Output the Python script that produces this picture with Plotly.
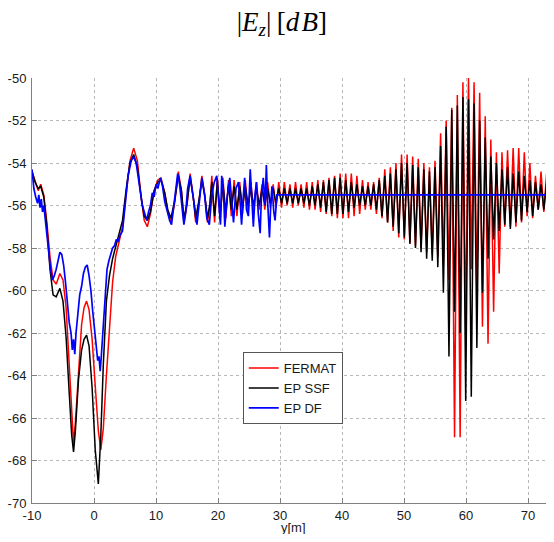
import numpy as np
import plotly.graph_objects as go

# ---- data ----
# near field part (x in m, |Ez| in dB), FERMAT and EP SSF share the same abscissae
x_near = [-10, -9.5, -9, -8.6, -8.1, -7.6, -7.1, -6.6, -6.1, -5.5, -5, -4.5, -4, -3.6, -3.3,
          -3, -2.5, -2, -1.6, -1.2, -0.8, -0.3, 0.2, 0.7, 1.1, 1.5, 2, 2.5, 3, 3.5, 4, 4.6,
          5.2, 5.8, 6.4, 7, 7.6, 8.1, 8.6, 9.1, 9.7, 10.3, 10.8, 11.4, 11.9, 12.4, 13, 13.6,
          14.1, 14.5, 15, 15.5, 16, 16.4, 16.9, 17.4, 17.9, 18.3, 18.7]
fermat_near = [-54.4, -54.9, -55.3, -55.0, -55.5, -56.8, -58.4, -59.5, -59.7, -59.2, -59.5, -60.8,
               -63.3, -65.8, -67.2, -66.2, -63.6, -61.6, -60.8, -60.5, -60.9, -62.3, -64.5, -66.6,
               -67.5, -66.5, -64.0, -61.5, -59.6, -58.4, -57.8, -57.0, -55.4, -53.9, -53.3, -53.9,
               -55.6, -56.7, -57.0, -56.4, -55.3, -54.8, -54.7, -55.4, -56.3, -56.8, -55.9, -54.4,
               -55.3, -56.8, -56.0, -54.5, -55.6, -56.8, -55.9, -54.6, -55.6, -56.8, -56.0]
ssf_near = [-54.4, -54.9, -55.2, -55.1, -55.6, -57.0, -59.0, -60.2, -60.3, -59.9, -60.5, -62.2,
            -64.8, -66.8, -67.6, -66.6, -64.2, -62.8, -62.3, -62.1, -62.6, -64.6, -67.5, -69.1,
            -66.8, -63.5, -60.5, -59.3, -58.5, -57.9, -57.4, -56.7, -55.2, -54.0, -53.6, -54.2,
            -55.6, -56.5, -56.7, -56.3, -55.3, -54.9, -54.8, -55.4, -56.2, -56.6, -55.8, -54.6,
            -55.3, -56.6, -55.9, -54.7, -55.6, -56.6, -55.8, -54.8, -55.6, -56.6, -55.9]

# far part: samples every 0.45 m from 19 m
x_far = np.round(np.arange(19.0, 74.4, 0.45), 2)
fermat_far = [-54.6, -56.8, -54.7, -56.7, -54.7, -56.6, -54.8, -56.5, -54.8, -56.5,
              -54.9, -56.4, -54.8, -56.3, -54.9, -56.3, -54.9, -56.2, -55.0, -56.2,
              -54.9, -56.1, -55.0, -56.1, -54.9, -56.1, -54.9, -56.0, -55.0, -56.1,
              -54.9, -56.0, -55.0, -56.1, -54.9, -56.2, -54.9, -56.2, -54.8, -56.3,
              -54.8, -56.4, -54.7, -56.5, -54.6, -56.6, -54.5, -56.6, -54.5, -56.6,
              -54.5, -56.5, -54.6, -56.4, -54.8, -56.2, -54.9, -56.2, -54.9, -56.4,
              -54.7, -56.6, -54.3, -56.8, -54.2, -57.2, -54.0, -57.5, -53.6, -57.6,
              -53.6, -57.8, -53.7, -57.9, -53.8, -58.0, -54.0, -58.2, -54.2, -58.3,
              -53.9, -58.4, -52.6, -58.8, -52.0, -59.5, -51.4, -66.9, -50.8, -66.9,
              -50.2, -61.9, -50.0, -59.0, -50.2, -60.0, -50.7, -61.7, -51.8, -62.5,
              -52.9, -61.0, -53.5, -59.2, -53.5, -57.0, -53.4, -57.0, -53.3, -57.0,
              -53.3, -56.8, -53.5, -56.5, -54.0, -56.6, -54.6, -56.2, -54.4, -56.3,
              -54.5, -56.1, -54.9, -56.0]
ssf_far = [-54.9, -56.5, -54.9, -56.4, -55.0, -56.3, -55.0, -56.2, -55.1, -56.2,
           -55.1, -56.1, -55.1, -56.0, -55.2, -56.0, -55.2, -56.0, -55.2, -55.9,
           -55.2, -55.9, -55.2, -55.9, -55.2, -55.9, -55.2, -55.9, -55.2, -55.9,
           -55.2, -55.9, -55.2, -55.9, -55.2, -56.0, -55.1, -56.0, -55.0, -56.1,
           -54.9, -56.3, -54.8, -56.4, -54.7, -56.4, -54.7, -56.4, -54.8, -56.3,
           -54.9, -56.1, -55.0, -56.0, -55.1, -56.0, -55.1, -56.0, -55.0, -56.2,
           -54.8, -56.5, -54.6, -56.8, -54.5, -57.0, -54.3, -57.3, -54.0, -57.5,
           -54.0, -57.8, -54.1, -58.0, -54.2, -58.2, -54.3, -58.5, -54.4, -58.6,
           -54.2, -58.9, -53.2, -60.1, -52.3, -63.1, -51.5, -61.0, -51.3, -62.0,
           -50.9, -65.2, -51.0, -65.0, -51.2, -62.7, -52.0, -60.1, -52.8, -58.5,
           -53.7, -57.6, -54.0, -57.2, -54.3, -56.9, -54.2, -57.1, -54.5, -56.8,
           -54.4, -56.7, -54.6, -56.3, -54.8, -56.5, -54.9, -56.2, -55.0, -56.2,
           -54.9, -56.0, -55.0, -55.9]

x_df = [-10, -9.7, -9.4, -9.1, -8.9, -8.7, -8.5, -8.3, -8.1, -7.9, -7.6, -7.3, -7.0, -6.7, -6.4,
        -6.1, -5.8, -5.5, -5.2, -4.9, -4.6, -4.3, -4.0, -3.7, -3.5, -3.3, -3.1, -2.9, -2.6, -2.3,
        -2.0, -1.7, -1.4, -1.1, -0.8, -0.5, -0.2, 0.1, 0.4, 0.6, 0.8, 1.0, 1.2, 1.5, 1.8, 2.1,
        2.4, 2.7, 3.0, 3.3, 3.6, 3.9, 4.2, 4.6, 5.0, 5.5, 6.0, 6.4, 6.8, 7.3, 7.8, 8.2, 8.5,
        8.8, 9.1, 9.4, 9.7, 10.0, 10.3, 10.7, 11.0, 11.4, 11.8, 12.2, 12.5, 12.8, 13.2, 13.5,
        13.8, 14.1, 14.5, 14.8, 15.1, 15.5, 15.9, 16.3, 16.6, 17.0, 17.4, 17.8, 18.2, 18.6,
        19.0, 19.4, 19.8, 20.1, 20.4, 20.6, 20.9, 21.1, 21.5, 21.9, 22.2, 22.5, 22.9, 23.3,
        23.6, 23.8, 24.1, 24.3, 24.6, 24.9, 25.2, 25.5, 25.7, 26.0, 26.2, 26.5, 26.8, 27.0,
        27.3, 27.6, 27.8, 28.0, 28.3, 28.5, 28.7, 29.0, 29.2, 29.5, 29.7, 74.4]
ep_df = [-54.3, -55.2, -55.6, -55.9, -55.5, -56.1, -55.7, -56.3, -56.0, -56.6, -57.3, -58.4,
         -59.0, -59.5, -59.3, -59.0, -58.6, -58.2, -58.3, -58.8, -59.6, -60.5, -61.5, -62.0,
         -62.8, -62.3, -63.0, -62.0, -61.0, -60.2, -59.8, -59.2, -58.9, -58.8, -59.3, -60.0,
         -61.0, -62.0, -62.6, -63.3, -63.1, -63.8, -63.0, -61.5, -60.0, -59.0, -58.6, -58.3,
         -58.0, -57.9, -57.6, -57.7, -57.4, -57.2, -56.0, -54.6, -53.9, -53.7, -54.0, -55.0,
         -56.0, -56.4, -56.7, -56.3, -56.0, -55.4, -55.6, -55.0, -55.2, -54.7, -55.0, -55.8,
         -56.3, -56.7, -56.9, -56.2, -55.0, -54.5, -55.0, -55.8, -56.9, -56.3, -55.2, -54.6,
         -55.3, -56.2, -56.9, -55.8, -54.7, -55.4, -56.6, -56.9, -55.5, -54.9, -54.6, -55.8,
         -56.9, -54.6, -55.5, -57.0, -55.6, -54.7, -55.8, -56.8, -55.2, -54.9, -56.0, -56.9,
         -55.5, -54.7, -56.2, -56.5, -54.3, -55.8, -57.0, -55.4, -54.9, -56.4, -57.3, -55.6,
         -54.7, -56.0, -54.1, -55.8, -57.5, -56.0, -55.1, -56.3, -56.7, -55.5, -55.5, -55.5]

x_ticks = list(range(-10, 80, 10))
y_ticks = list(range(-70, -48, 2))

series = [
    ("FERMAT", list(x_near) + list(x_far), fermat_near + fermat_far, "#ff0000", 1.5),
    ("EP SSF", list(x_near) + list(x_far), ssf_near + ssf_far, "#000000", 1.5),
    ("EP DF", x_df, ep_df, "#0000ff", 1.7),
]

fig = go.Figure()
for name, xs, ys, color, w in series:
    fig.add_trace(go.Scatter(x=xs, y=ys, mode="lines", name=name,
                             line=dict(color=color, width=w)))

axis_style = dict(showline=True, linecolor="#808080", linewidth=1, mirror=False,
                  ticks="inside", ticklen=5, tickcolor="#808080", automargin=False,
                  showgrid=True, gridcolor="#b8b8b8", griddash="dot", gridwidth=1,
                  zeroline=False, tickfont=dict(size=13, color="#1a1a1a"))
fig.update_xaxes(range=[-10, 72.9], tickvals=x_ticks, ticktext=[str(v) for v in x_ticks],
                 **axis_style)
fig.update_yaxes(range=[-70, -50], tickvals=y_ticks, ticktext=[str(v) for v in y_ticks],
                 ticklabelstandoff=2, **axis_style)

# x axis label, placed by hand so it stays inside the page
fig.add_annotation(text="y[m]", xref="paper", yref="paper", x=0.508, y=0,
                   yanchor="middle", yshift=-24, showarrow=False,
                   font=dict(size=13, color="#1a1a1a"))

# the page body keeps an 8 px margin, so the figure is 16 px smaller than the window
fig.update_layout(
    width=538, height=526,
    margin=dict(l=24, r=0, t=70, b=31),
    paper_bgcolor="white", plot_bgcolor="white",
    font=dict(family="Liberation Sans, Arial, sans-serif", size=13, color="#1a1a1a"),
    title=dict(text="|<i>E</i><sub><i>z</i></sub>|\u2009[<i>d</i>\u200a<i>B</i>]",
               font=dict(family="Liberation Serif, DejaVu Serif, serif", size=27, color="black"),
               x=0.509, xanchor="center", xref="container",
               y=0.975, yanchor="middle", yref="container"),
    legend=dict(x=0.41, y=0.355, xanchor="left", yanchor="top",
                bgcolor="white", bordercolor="#555555", borderwidth=1,
                font=dict(size=13, color="#1a1a1a"), itemwidth=30, tracegroupgap=0),
)

fig.write_html("out.html")
